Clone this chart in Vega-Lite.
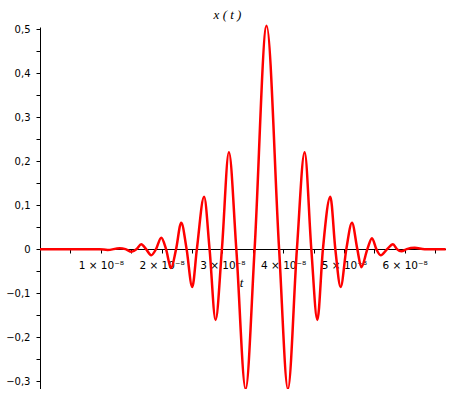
{
  "$schema": "https://vega.github.io/schema/vega-lite/v6.json",
  "autosize": "none",
  "width": 406,
  "height": 362,
  "padding": {"left": 40, "top": 27, "right": 0, "bottom": 0},
  "background": "white",
  "config": {"view": {"stroke": null}},
  "data": {"values": [
    {"t": 0, "x": 0},
    {"t": 0.979e-8, "x": 0},
    {"t": 1.111e-8, "x": -0.002},
    {"t": 1.309e-8, "x": 0.002},
    {"t": 1.407e-8, "x": 0},
    {"t": 1.506e-8, "x": -0.006},
    {"t": 1.588e-8, "x": 0},
    {"t": 1.666e-8, "x": 0.011},
    {"t": 1.745e-8, "x": 0},
    {"t": 1.830e-8, "x": -0.014},
    {"t": 1.909e-8, "x": 0},
    {"t": 1.995e-8, "x": 0.026},
    {"t": 2.074e-8, "x": 0},
    {"t": 2.156e-8, "x": -0.043},
    {"t": 2.239e-8, "x": 0},
    {"t": 2.324e-8, "x": 0.060},
    {"t": 2.412e-8, "x": 0},
    {"t": 2.505e-8, "x": -0.086},
    {"t": 2.581e-8, "x": 0},
    {"t": 2.700e-8, "x": 0.119},
    {"t": 2.790e-8, "x": 0},
    {"t": 2.889e-8, "x": -0.161},
    {"t": 2.993e-8, "x": 0},
    {"t": 3.108e-8, "x": 0.220},
    {"t": 3.230e-8, "x": 0},
    {"t": 3.383e-8, "x": -0.318},
    {"t": 3.531e-8, "x": 0},
    {"t": 3.728e-8, "x": 0.508},
    {"t": 3.934e-8, "x": 0},
    {"t": 4.079e-8, "x": -0.318},
    {"t": 4.227e-8, "x": 0},
    {"t": 4.354e-8, "x": 0.220},
    {"t": 4.464e-8, "x": 0},
    {"t": 4.563e-8, "x": -0.161},
    {"t": 4.655e-8, "x": 0},
    {"t": 4.777e-8, "x": 0.119},
    {"t": 4.859e-8, "x": 0},
    {"t": 4.947e-8, "x": -0.086},
    {"t": 5.040e-8, "x": 0},
    {"t": 5.133e-8, "x": 0.060},
    {"t": 5.221e-8, "x": 0},
    {"t": 5.287e-8, "x": -0.041},
    {"t": 5.386e-8, "x": 0},
    {"t": 5.462e-8, "x": 0.025},
    {"t": 5.534e-8, "x": 0},
    {"t": 5.605e-8, "x": -0.014},
    {"t": 5.712e-8, "x": 0},
    {"t": 5.807e-8, "x": 0.011},
    {"t": 5.873e-8, "x": 0},
    {"t": 5.946e-8, "x": -0.005},
    {"t": 6.033e-8, "x": 0},
    {"t": 6.165e-8, "x": 0.003},
    {"t": 6.329e-8, "x": 0},
    {"t": 6.675e-8, "x": 0}
  ]},
  "mark": {"type": "line", "color": "#ff0000", "strokeWidth": 2.5, "interpolate": "monotone", "clip": false},
  "encoding": {
    "x": {
      "field": "t", "type": "quantitative",
      "scale": {"domain": [0, 6.68e-8], "nice": false, "zero": false},
      "axis": {
        "orient": "bottom", "offset": -140, "grid": false,
        "values": [0.5e-8, 1e-8, 1.5e-8, 2e-8, 2.5e-8, 3e-8, 3.5e-8, 4e-8, 4.5e-8, 5e-8, 5.5e-8, 6e-8, 6.5e-8],
        "labelExpr": "abs(datum.value*1e8 - round(datum.value*1e8)) > 0.01 ? '' : round(datum.value*1e8) + ' × 10⁻⁸'",
        "domainColor": "black", "domainWidth": 1, "tickColor": "black", "tickSize": 4, "tickWidth": 1,
        "labelColor": "black", "labelFont": "DejaVu Sans", "labelFontSize": 10.5, "labelPadding": 7,
        "labelBaseline": "top", "labelFlush": false, "labelOverlap": false, "labelBound": false,
        "title": "t", "titleFont": "Liberation Serif", "titleFontStyle": "italic", "titleFontWeight": "normal", "titleFontSize": 13,
        "titleColor": "black", "titleX": 201, "titleY": 33, "titleAlign": "center", "titleBaseline": "middle"
      }
    },
    "y": {
      "field": "x", "type": "quantitative",
      "scale": {"domain": [-0.318, 0.505], "nice": false, "zero": false},
      "axis": {
        "orient": "left", "grid": false,
        "values": [-0.3, -0.25, -0.2, -0.15, -0.1, -0.05, 0, 0.05, 0.1, 0.15, 0.2, 0.25, 0.3, 0.35, 0.4, 0.45, 0.5],
        "labelExpr": "abs(datum.value*10 - round(datum.value*10)) > 0.01 ? '' : (abs(datum.value) < 1e-9 ? '0' : replace(format(datum.value, '.1f'), '.', ','))",
        "domainColor": "black", "domainWidth": 1, "tickColor": "black", "tickSize": 4, "tickWidth": 1,
        "labelColor": "black", "labelFont": "DejaVu Sans", "labelFontSize": 10, "labelPadding": 6,
        "labelFlush": false, "labelOverlap": false, "labelBound": false,
        "title": "x ( t )", "titleFont": "Liberation Serif", "titleFontStyle": "italic", "titleFontWeight": "normal", "titleFontSize": 13,
        "titleColor": "black", "titleAngle": 0, "titleX": 187, "titleY": -13, "titleAlign": "center", "titleBaseline": "middle"
      }
    }
  }
}
